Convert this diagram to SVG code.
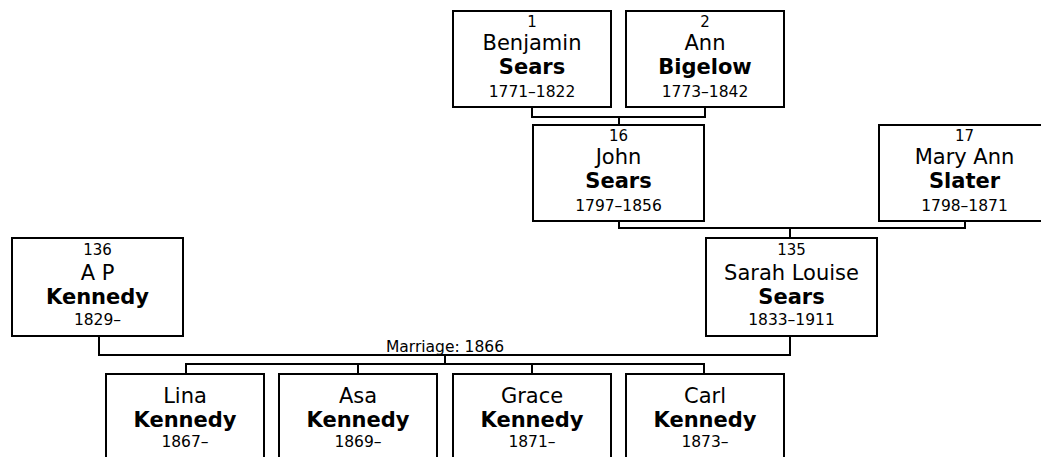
<svg xmlns="http://www.w3.org/2000/svg" width="1041" height="457" viewBox="0 0 1041 457">
<style>
.box{fill:#fff;stroke:#000;stroke-width:2}
.ln{fill:none;stroke:#000;stroke-width:2}
text{font-family:"DejaVu Sans",Verdana,sans-serif;fill:#000;text-anchor:middle}
.num{font-size:15px}
.gn{font-size:21px}
.sn{font-size:21px;font-weight:bold}
.dt{font-size:15.5px}
.mr{font-size:15.5px}
</style>
<rect width="1041" height="457" fill="#fff"/>
<g id="connectors">
<path class="ln" d="M532,107V117H705V107M619,117V124"/>
<path class="ln" d="M619,221V228H965V221M790,228V237"/>
<path class="ln" d="M99,337V355H790V337M445,355V364"/>
<path class="ln" d="M186,373V364H704V373M358,364V373M532,364V373"/>
<text class="mr" x="445" y="352">Marriage: 1866</text>
</g>
<g id="p1"><rect class="box" x="453" y="11" width="158" height="96"/>
<text class="num" x="532" y="27">1</text><text class="gn" x="532" y="50">Benjamin</text><text class="sn" x="532" y="74">Sears</text><text class="dt" x="532" y="97">1771–1822</text></g>
<g id="p2"><rect class="box" x="626" y="11" width="158" height="96"/>
<text class="num" x="705" y="27">2</text><text class="gn" x="705" y="50">Ann</text><text class="sn" x="705" y="74">Bigelow</text><text class="dt" x="705" y="97">1773–1842</text></g>
<g id="p16"><rect class="box" x="533" y="125" width="171" height="96"/>
<text class="num" x="618.5" y="141">16</text><text class="gn" x="618.5" y="164">John</text><text class="sn" x="618.5" y="188">Sears</text><text class="dt" x="618.5" y="211">1797–1856</text></g>
<g id="p17"><rect class="box" x="879" y="125" width="171" height="96"/>
<text class="num" x="964.5" y="141">17</text><text class="gn" x="964.5" y="164">Mary Ann</text><text class="sn" x="964.5" y="188">Slater</text><text class="dt" x="964.5" y="211">1798–1871</text></g>
<g id="p136"><rect class="box" x="12" y="238" width="171" height="98"/>
<text class="num" x="97.5" y="255">136</text><text class="gn" x="97.5" y="280">A P</text><text class="sn" x="97.5" y="304">Kennedy</text><text class="dt" x="97.5" y="325">1829–</text></g>
<g id="p135"><rect class="box" x="706" y="238" width="171" height="98"/>
<text class="num" x="791.5" y="255">135</text><text class="gn" x="791.5" y="280">Sarah Louise</text><text class="sn" x="791.5" y="304">Sears</text><text class="dt" x="791.5" y="325">1833–1911</text></g>
<g id="c1"><rect class="box" x="106" y="374" width="158" height="96"/>
<text class="gn" x="185" y="403">Lina</text><text class="sn" x="185" y="427">Kennedy</text><text class="dt" x="185" y="447">1867–</text></g>
<g id="c2"><rect class="box" x="279" y="374" width="158" height="96"/>
<text class="gn" x="358" y="403">Asa</text><text class="sn" x="358" y="427">Kennedy</text><text class="dt" x="358" y="447">1869–</text></g>
<g id="c3"><rect class="box" x="453" y="374" width="158" height="96"/>
<text class="gn" x="532" y="403">Grace</text><text class="sn" x="532" y="427">Kennedy</text><text class="dt" x="532" y="447">1871–</text></g>
<g id="c4"><rect class="box" x="626" y="374" width="158" height="96"/>
<text class="gn" x="705" y="403">Carl</text><text class="sn" x="705" y="427">Kennedy</text><text class="dt" x="705" y="447">1873–</text></g>
</svg>
